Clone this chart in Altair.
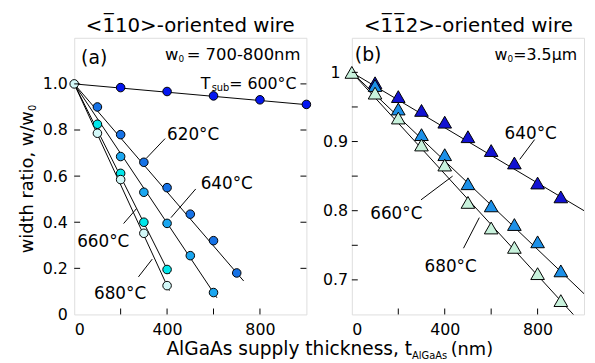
import altair as alt
import pandas as pd

FONT = "DejaVu Sans"
W, H = 235, 280

# ---------------- panel (a): <-110>-oriented wire (circles) ----------------
a_series = ["a600", "a620", "a640", "a660", "a680"]
a_colors = ["#0416F0", "#1672E6", "#1AA6F0", "#00E6EA", "#D2F8F8"]
a_x = {
    "a600": [200, 400, 600, 800, 1000],
    "a620": [100, 200, 300, 400, 500, 600, 700],
    "a640": [200, 300, 400, 500, 600],
    "a660": [100, 200, 300, 400],
    "a680": [0, 100, 200, 300, 400],
}
a_y = {
    "a600": [0.984, 0.967, 0.948, 0.931, 0.911],
    "a620": [0.90, 0.78, 0.66, 0.55, 0.435, 0.32, 0.18],
    "a640": [0.685, 0.53, 0.395, 0.255, 0.095],
    "a660": [0.825, 0.612, 0.40, 0.195],
    "a680": [1.0, 0.786, 0.585, 0.352, 0.125],
}
# fitted lines: start / end
a_line_x = {"a600": [0, 1000], "a620": [0, 730], "a640": [0, 615], "a660": [0, 410], "a680": [0, 410]}
a_line_y = {"a600": [1.0, 0.91], "a620": [1.0, 0.145], "a640": [1.0, 0.072], "a660": [1.0, 0.176], "a680": [1.0, 0.103]}

# ---------------- panel (b): <-1-12>-oriented wire (triangles) ----------------
b_series = ["b640", "b660", "b680"]
b_colors = ["#1212D2", "#1C90E8", "#C8F2DC"]
b_x = {
    "b640": [100, 200, 300, 400, 500, 600, 700, 800, 900],
    "b660": [100, 200, 300, 400, 500, 600, 700, 800, 900],
    "b680": [0, 100, 200, 300, 400, 500, 600, 700, 800, 900],
}
b_y = {
    "b640": [0.985, 0.965, 0.945, 0.928, 0.907, 0.887, 0.869, 0.840, 0.820],
    "b660": [0.981, 0.947, 0.910, 0.881, 0.839, 0.807, 0.780, 0.755, 0.713],
    "b680": [1.0, 0.970, 0.934, 0.895, 0.866, 0.812, 0.775, 0.747, 0.709, 0.670],
}
b_line_x = {"b640": [0, 1000], "b660": [0, 1000], "b680": [0, 1000]}
b_line_y = {"b640": [1.0, 0.80], "b660": [1.0, 0.68], "b680": [1.0, 0.633]}

a_xlabels = [0, 400, 800]
a_ylabels = [0, 0.2, 0.4, 0.6, 0.8, 1.0]
a_yticks = [0.2, 0.4, 0.6, 0.8, 1.0]
b_xlabels = [0, 400, 800]
b_ylabels = [0.7, 0.8, 0.9, 1.0]
b_yticks = [0.7, 0.75, 0.8, 0.85, 0.9, 0.95, 1.0]
xticks = [200, 400, 600, 800]


def long_df(xs, ys, order):
    rows = []
    for s in order:
        for xv, yv in zip(xs[s], ys[s]):
            rows.append({"s": s, "x": xv, "y": yv})
    return pd.DataFrame(rows)


one = pd.DataFrame({"k": [0]})


def txt(s, x, y, size=17, align="left", baseline="middle", angle=0):
    return alt.Chart(one).mark_text(
        text=s, fontSize=size, font=FONT, align=align, baseline=baseline,
        angle=angle, color="black"
    ).encode(x=alt.value(x), y=alt.value(y))


def seg(x1, y1, x2, y2):
    return alt.Chart(one).mark_rule(color="black", strokeWidth=1).encode(
        x=alt.value(x1), y=alt.value(y1), x2=alt.value(x2), y2=alt.value(y2)
    )


xscale = alt.Scale(domain=[0, 1000], nice=False, zero=False)
XAXIS = alt.Axis(values=a_xlabels, ticks=False, domain=False, grid=False, title=None,
                 labelFont=FONT, labelFontSize=16, labelPadding=7, labelColor="black")


def build_panel(points, lines, series, colors, yscale, yaxis, yticks,
                right_ticks, shape, size, ann):
    X = lambda f: alt.X(f, scale=xscale, axis=XAXIS)
    Y = lambda f: alt.Y(f, scale=yscale, axis=yaxis)
    ln = alt.Chart(lines).mark_line(color="black", strokeWidth=1, clip=True).encode(
        x=X("x:Q"), y=Y("y:Q"), detail="s:N", order="x:Q")
    pt = alt.Chart(points).mark_point(shape=shape, size=size, filled=True, stroke="black",
                                      strokeWidth=1, opacity=1).encode(
        x=X("x:Q"), y=Y("y:Q"),
        fill=alt.Fill("s:N", scale=alt.Scale(domain=series, range=colors), legend=None),
    )
    ydf = pd.DataFrame({"v": yticks})
    tl = alt.Chart(ydf).mark_rule(color="black", strokeWidth=1).encode(
        y=Y("v:Q"), x=alt.value(0), x2=alt.value(6))
    layers = [ln, pt, tl]
    if right_ticks:
        tr = alt.Chart(ydf).mark_rule(color="black", strokeWidth=1).encode(
            y=Y("v:Q"), x=alt.value(W - 6), x2=alt.value(W))
        layers.append(tr)
    xdf = pd.DataFrame({"v": xticks})
    tb = alt.Chart(xdf).mark_rule(color="black", strokeWidth=1).encode(
        x=X("v:Q"), y=alt.value(H), y2=alt.value(H - 6))
    layers.append(tb)
    layers += ann
    return alt.layer(*layers).properties(width=W, height=H)


# ---------------- panel a ----------------
a_points = long_df(a_x, a_y, a_series)
a_lines = long_df(a_line_x, a_line_y, a_series)
a_yscale = alt.Scale(domain=[0, 1.2], nice=False, zero=False)
a_yaxis = alt.Axis(values=a_ylabels, ticks=False, domain=False, grid=False, title=None,
                   labelFont=FONT, labelFontSize=16, labelPadding=7, labelColor="black",
                   labelExpr="datum.value == 0 ? '0' : format(datum.value, '.1f')")
a_ann = [
    txt("<1\u030510>-oriented wire", W / 2, -6, size=20, align="center", baseline="alphabetic"),
    txt("(a)", 7, 21, size=19),
    txt("w", 92, 22, size=16.6, baseline="alphabetic"),
    txt("0", 105.5, 24, size=9, baseline="alphabetic"),
    txt("= 700-800nm", 229, 22, size=16.6, align="right", baseline="alphabetic"),
    txt("T", 128, 52, size=16, baseline="alphabetic"),
    txt("sub", 157, 54, size=10, align="right", baseline="alphabetic"),
    txt("= 600\u00b0C", 225, 52, size=16, align="right", baseline="alphabetic"),
    txt("620\u00b0C", 94, 98), seg(92, 102, 73, 122),
    txt("640\u00b0C", 128, 148), seg(123, 153, 98, 182),
    txt("660\u00b0C", 3, 207), seg(50, 188, 63, 173),
    txt("680\u00b0C", 20, 259), seg(65, 242, 79, 224),
    # y-axis title
    txt("width ratio, w/w", -42, 218, size=18, angle=270, baseline="alphabetic"),
    txt("0", -39, 74, size=10, angle=270, baseline="alphabetic"),
    # shared x-axis title
    txt("AlGaAs supply thickness, t", 342, 321, size=18.8, align="right", baseline="alphabetic"),
    txt("AlGaAs", 342, 325, size=10, baseline="alphabetic"),
    txt("(nm)", 381, 321, size=18, baseline="alphabetic"),
]
left = build_panel(a_points, a_lines, a_series, a_colors, a_yscale, a_yaxis,
                   a_yticks, True, "circle", 75, a_ann)

# ---------------- panel b ----------------
b_points = long_df(b_x, b_y, b_series)
b_lines = long_df(b_line_x, b_line_y, b_series)
b_yscale = alt.Scale(domain=[0.65, 1.05], nice=False, zero=False)
b_yaxis = alt.Axis(values=b_ylabels, ticks=False, domain=False, grid=False, title=None,
                   labelFont=FONT, labelFontSize=16, labelPadding=17, labelAlign="center",
                   labelColor="black",
                   labelExpr="datum.value == 1 ? '1' : format(datum.value, '.1f')")
b_ann = [
    txt("<1\u03051\u03052>-oriented wire", 118, -6, size=20, align="center", baseline="alphabetic"),
    txt("(b)", 3, 17, size=19),
    txt("w", 144.5, 22, size=16, baseline="alphabetic"),
    txt("0", 157.5, 24, size=9, baseline="alphabetic"),
    txt("=3.5\u03bcm", 228, 22, size=16, align="right", baseline="alphabetic"),
    txt("640\u00b0C", 181, 97, align="center"), seg(185, 103, 170, 123),
    txt("660\u00b0C", 45, 178, align="center"), seg(70, 164, 102, 140),
    txt("680\u00b0C", 100, 232, align="center"), seg(113, 213, 129, 182),
]
right = build_panel(b_points, b_lines, b_series, b_colors, b_yscale, b_yaxis,
                    b_yticks, False, "triangle-up", 190, b_ann)

chart = alt.hconcat(left, right, spacing=46, bounds="flush").resolve_scale(
    x="independent", y="independent", fill="independent"
).properties(
    padding={"left": 10, "top": 5, "right": 2, "bottom": 0}
).configure_view(stroke="black", strokeWidth=1.5).configure(background="white")

chart.save("out.html", embed_options={"renderer": "svg", "actions": False})
